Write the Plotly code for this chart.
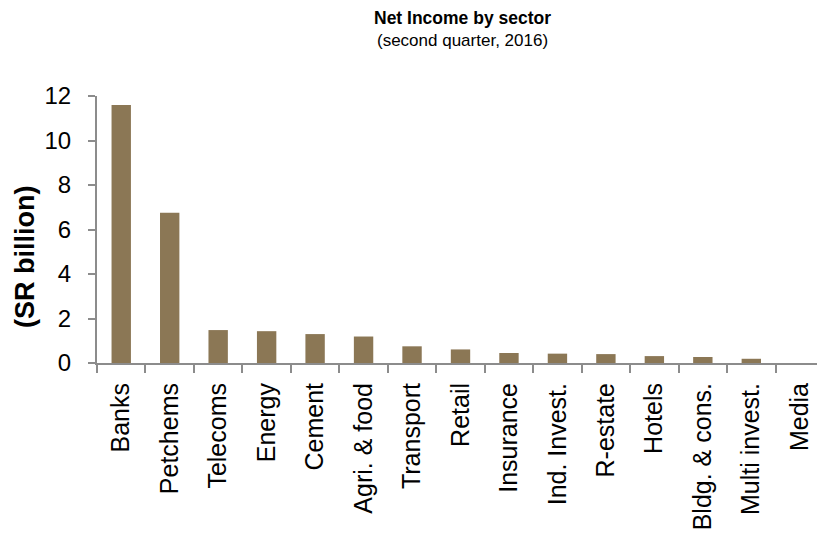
import plotly.graph_objects as go

sectors = ["Banks", "Petchems", "Telecoms", "Energy", "Cement", "Agri. & food",
           "Transport", "Retail", "Insurance", "Ind. Invest.", "R-estate", "Hotels",
           "Bldg. & cons.", "Multi invest.", "Media"]
net_income = [11.6, 6.75, 1.48, 1.43, 1.30, 1.19, 0.75, 0.61, 0.45, 0.42, 0.40,
              0.31, 0.27, 0.19, 0.0]
y_ticks = [0, 2, 4, 6, 8, 10, 12]

FONT = "Liberation Sans, Arial, sans-serif"
AXIS_COLOR = "#8c8c8c"

fig = go.Figure(go.Bar(
    x=sectors, y=net_income,
    marker=dict(color="#8b7755", line=dict(width=0)),
    width=0.4,
))

fig.update_layout(
    width=825, height=540,
    margin=dict(l=89, r=9, t=88, b=185),
    paper_bgcolor="white", plot_bgcolor="white",
    font=dict(family=FONT, color="black"),
    showlegend=False,
    bargap=0.6,
)

fig.update_xaxes(
    type="category",
    showline=True, linecolor=AXIS_COLOR, linewidth=2,
    ticks="outside", ticklen=8, tickcolor=AXIS_COLOR, tickwidth=2,
    tickson="boundaries",
    tickangle=-90,
    tickfont=dict(size=25, family=FONT, color="black"),
    ticklabelstandoff=8,
    showgrid=False, zeroline=False,
)

fig.update_yaxes(
    range=[0, 12],
    tickvals=y_ticks,
    showline=True, linecolor=AXIS_COLOR, linewidth=2,
    ticks="outside", ticklen=7, tickcolor=AXIS_COLOR, tickwidth=2,
    tickfont=dict(size=24, family=FONT, color="black"),
    ticklabelstandoff=12,
    showgrid=False, zeroline=False,
)

fig.add_annotation(
    text="<b>Net Income by sector</b>",
    xref="paper", yref="paper", x=0.503, y=1.292,
    xanchor="center", yanchor="middle", showarrow=False,
    font=dict(size=17.5, family=FONT, color="black"),
)
fig.add_annotation(
    text="(second quarter, 2016)",
    xref="paper", yref="paper", x=0.503, y=1.206,
    xanchor="center", yanchor="middle", showarrow=False,
    font=dict(size=17, family=FONT, color="black"),
)

fig.add_annotation(
    text="<b>(SR billion)</b>",
    textangle=-90,
    xref="paper", yref="paper",
    x=-0.1, y=0.398,
    xanchor="center", yanchor="middle",
    showarrow=False,
    font=dict(size=27, family=FONT, color="black"),
)

fig.write_html("out.html")
